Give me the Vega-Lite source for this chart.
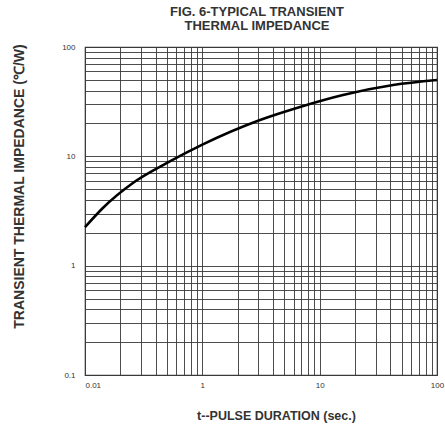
{
  "$schema": "https://vega.github.io/schema/vega-lite/v6.json",
  "autosize": {"type": "none"},
  "padding": {"left": 85, "top": 47, "right": 8, "bottom": 50},
  "width": 352,
  "height": 328,
  "background": "white",
  "config": {
    "font": "Liberation Sans",
    "view": {"stroke": "#3a3a3a", "strokeWidth": 1.2}
  },
  "title": {
    "text": ["FIG. 6-TYPICAL TRANSIENT", "THERMAL IMPEDANCE"],
    "fontSize": 13,
    "fontWeight": "bold",
    "color": "#333333",
    "lineHeight": 14,
    "anchor": "middle",
    "dx": -4,
    "offset": 10
  },
  "data": {
    "values": [
      {"t": 0.1, "z": 2.25},
      {"t": 0.142, "z": 3.37},
      {"t": 0.256, "z": 5.7},
      {"t": 0.5, "z": 8.7},
      {"t": 1.0, "z": 12.8},
      {"t": 3.1, "z": 21.5},
      {"t": 6.8, "z": 28.3},
      {"t": 15.8, "z": 36.4},
      {"t": 42.3, "z": 44.9},
      {"t": 100, "z": 49.9}
    ]
  },
  "mark": {"type": "line", "color": "black", "strokeWidth": 2.6, "interpolate": "monotone"},
  "encoding": {
    "x": {
      "field": "t",
      "type": "quantitative",
      "scale": {"type": "log", "domain": [0.1, 100]},
      "axis": {
        "title": "t--PULSE DURATION (sec.)",
        "titleFontSize": 12.5,
        "titleFontWeight": "bold",
        "titleColor": "#333333",
        "titleX": 191,
        "titleY": 44,
        "titleBaseline": "alphabetic",
        "values": [0.1, 0.2, 0.3, 0.4, 0.5, 0.6, 0.7, 0.8, 0.9, 1, 2, 3, 4, 5, 6, 7, 8, 9, 10, 20, 30, 40, 50, 60, 70, 80, 90, 100],
        "labelExpr": "datum.value == 0.1 ? '0.01' : (datum.value == 1 || datum.value == 10 || datum.value == 100) ? datum.label : ''",
        "labelFlush": false,
        "labelAlign": {"condition": {"test": "datum.value == 0.1", "value": "left"}, "value": "center"},
        "labelDx": 3,
        "labelFontSize": 8,
        "labelColor": "#333333",
        "labelPadding": 6,
        "ticks": false,
        "domain": false,
        "grid": true,
        "gridColor": "#3a3a3a",
        "gridWidth": 1,
        "gridOpacity": 0.9
      }
    },
    "y": {
      "field": "z",
      "type": "quantitative",
      "scale": {"type": "log", "domain": [0.1, 100]},
      "axis": {
        "title": "TRANSIENT THERMAL IMPEDANCE (℃/W)",
        "titleFontSize": 14,
        "titleFontWeight": "bold",
        "titleColor": "#333333",
        "titleX": -66,
        "titleY": 139,
        "titleBaseline": "middle",
        "titleAlign": "center",
        "values": [0.1, 0.2, 0.3, 0.4, 0.5, 0.6, 0.7, 0.8, 0.9, 1, 2, 3, 4, 5, 6, 7, 8, 9, 10, 20, 30, 40, 50, 60, 70, 80, 90, 100],
        "labelExpr": "(datum.value == 0.1 || datum.value == 1 || datum.value == 10 || datum.value == 100) ? datum.label : ''",
        "labelFontSize": 8,
        "labelColor": "#333333",
        "labelPadding": 10,
        "ticks": false,
        "domain": false,
        "grid": true,
        "gridColor": "#3a3a3a",
        "gridWidth": 1,
        "gridOpacity": 0.9
      }
    }
  }
}
